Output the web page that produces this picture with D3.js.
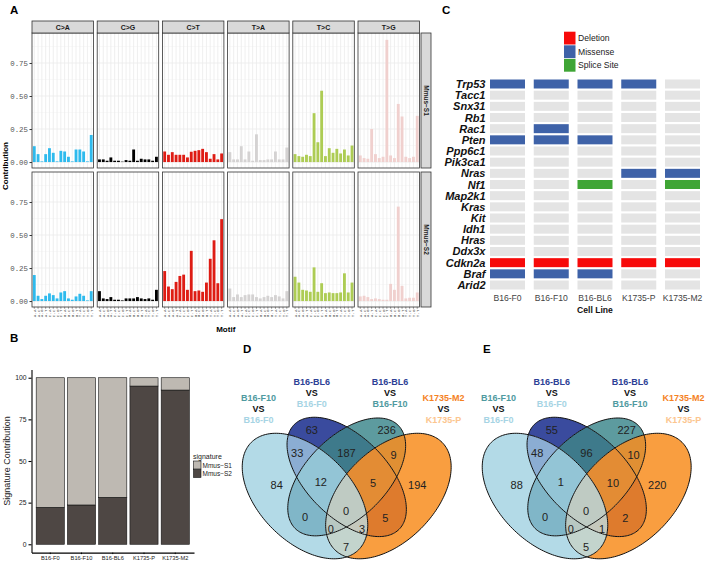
<!DOCTYPE html>
<html><head><meta charset="utf-8">
<script src="https://cdn.jsdelivr.net/npm/d3@7"></script>
<style>body{margin:0;background:#fff}svg{display:block}</style>
</head><body>
<svg id="fig" width="709" height="562"></svg>
<script>
// ---------------- DATA ----------------
// Panel A: mutational signature profiles
const mutationTypes = ["C>A","C>G","C>T","T>A","T>C","T>G"];
const motifLabels = ["A.A","A.C","A.G","A.T","C.A","C.C","C.G","C.T","G.A","G.C","G.G","G.T","T.A","T.C","T.G","T.T"];
const signatureNames = ["Mmus\u2212S1","Mmus\u2212S2"];
const s1CA = [0.12,0.06,0.005,0.06,0.105,0.07,0.005,0.085,0.08,0.04,0.005,0.095,0.095,0.08,0.005,0.205];
const s1CG = [0.02,0.02,0.01,0.035,0.01,0.01,0.003,0.015,0.01,0.095,0.01,0.025,0.02,0.02,0.01,0.04];
const s1CT = [0.08,0.055,0.075,0.055,0.055,0.055,0.035,0.078,0.085,0.09,0.1,0.075,0.025,0.06,0.02,0.065];
const s1TA = [0.075,0.02,0.02,0.12,0.02,0.08,0.01,0.21,0.015,0.015,0.02,0.02,0.08,0.02,0.02,0.11];
const s1TC = [0.06,0.045,0.04,0.055,0.045,0.37,0.15,0.54,0.045,0.105,0.07,0.1,0.065,0.095,0.05,0.125];
const s1TG = [0.05,0.03,0.025,0.25,0.06,0.03,0.04,0.925,0.05,0.03,0.44,0.345,0.04,0.03,0.04,0.35];
const s2CA = [0.197,0.04,0.015,0.04,0.058,0.045,0.02,0.065,0.075,0.02,0.01,0.035,0.055,0.04,0.005,0.075];
const s2CG = [0.075,0.02,0.015,0.03,0.01,0.01,0.005,0.02,0.02,0.02,0.03,0.02,0.015,0.02,0.01,0.085];
const s2CT = [0.227,0.11,0.09,0.145,0.19,0.2,0.085,0.38,0.075,0.08,0.07,0.14,0.32,0.46,0.135,0.62];
const s2TA = [0.095,0.03,0.05,0.03,0.045,0.05,0.05,0.03,0.02,0.03,0.04,0.03,0.045,0.035,0.02,0.075];
const s2TC = [0.184,0.14,0.085,0.08,0.07,0.255,0.07,0.135,0.06,0.065,0.06,0.06,0.065,0.21,0.065,0.14];
const s2TG = [0.035,0.04,0.03,0.015,0.02,0.015,0.01,0.01,0.13,0.085,0.715,0.115,0.02,0.025,0.025,0.065];
const contribTicks = [0, 0.25, 0.5, 0.75];

// Panel B: signature contribution per cell line
const sampleNames = ["B16-F0","B16-F10","B16-BL6","K1735-P","K1735-M2"];
const contribS1 = [77.8, 76.4, 71.8, 5.0, 7.4];
const contribS2 = [22.2, 23.6, 28.2, 95.0, 92.6];
const contribAxisTicks = [0, 25, 50, 75, 100];

// Panel C: oncoprint
const genes = ["Trp53","Tacc1","Snx31","Rb1","Rac1","Pten","Ppp6c1","Pik3ca1","Nras","Nf1","Map2k1","Kras","Kit","Idh1","Hras","Ddx3x","Cdkn2a","Braf","Arid2"];
const cellLines = ["B16-F0","B16-F10","B16-BL6","K1735-P","K1735-M2"];
const mutationClasses = ["Deletion","Missense","Splice Site"];
const mutations = [
  ["Trp53","B16-F0","Missense"],["Trp53","B16-F10","Missense"],["Trp53","B16-BL6","Missense"],["Trp53","K1735-P","Missense"],
  ["Rac1","B16-F10","Missense"],
  ["Pten","B16-F0","Missense"],["Pten","B16-F10","Missense"],["Pten","B16-BL6","Missense"],
  ["Nras","K1735-P","Missense"],["Nras","K1735-M2","Missense"],
  ["Nf1","B16-BL6","Splice Site"],["Nf1","K1735-M2","Splice Site"],
  ["Cdkn2a","B16-F0","Deletion"],["Cdkn2a","B16-F10","Deletion"],["Cdkn2a","B16-BL6","Deletion"],["Cdkn2a","K1735-P","Deletion"],["Cdkn2a","K1735-M2","Deletion"],
  ["Braf","B16-F0","Missense"],["Braf","B16-F10","Missense"],["Braf","B16-BL6","Missense"]
];

// Panels D/E: 4-set Venn diagrams
const vennSetTitles = [["B16-F10","VS","B16-F0"],["B16-BL6","VS","B16-F0"],["B16-BL6","VS","B16-F10"],["K1735-M2","VS","K1735-P"]];
const vennRegions = ["1","2","3","4","12","13","14","23","24","34","123","124","134","234","1234"];
const vennD = [84,63,236,194,33,0,7,187,5,9,12,3,0,5,0];
const vennE = [88,55,227,220,48,0,5,96,2,10,1,1,0,10,0];

// ---------------- LAYOUT / STYLE ----------------
const W = 709, H = 562;
const SANS = '"Liberation Sans", Arial, Helvetica, sans-serif';
const MONO = '"Liberation Mono", "DejaVu Sans Mono", monospace';
const svg = d3.select("#fig");
svg.append("rect").attr("width", W).attr("height", H).attr("fill", "#fff");
const defs = svg.append("defs");

function txt(g, s, x, y, o) {
  o = o || {};
  const t = g.append("text").attr("x", x).attr("y", y).text(s)
    .attr("font-family", o.family || SANS).attr("font-size", o.size || 8)
    .attr("font-weight", o.weight || "normal").attr("fill", o.fill || "#000")
    .attr("text-anchor", o.anchor || "start");
  if (o.style) t.attr("font-style", o.style);
  if (o.baseline) t.attr("dominant-baseline", o.baseline);
  if (o.transform) t.attr("transform", o.transform);
  return t;
}

// Panel letters
[["A",10,13.5],["B",10,342],["C",442,13.5],["D",243,353],["E",483,353]].forEach(l =>
  txt(svg, l[0], l[1], l[2], {size: 11.5, weight: "bold"}));

// ---------------- PANEL A ----------------
(function () {
  const typeColors = ["#2EBAED","#000000","#DE1C14","#D4D2D2","#ADCC54","#F0D0CE"];
  const sigVals = [[s1CA,s1CG,s1CT,s1TA,s1TC,s1TG],[s2CA,s2CG,s2CT,s2TA,s2TC,s2TG]];
  const x0 = 32, step = 65.2, pw = 61.5;
  const rows = [{top: 33, bottom: 168}, {top: 172, bottom: 307}];
  const xb = d3.scaleBand().domain(motifLabels).range([0, pw]).paddingInner(0.25).paddingOuter(0.225);
  rows.forEach((row, r) => {
    const y = d3.scaleLinear().domain([-0.045, 0.977]).range([row.bottom, row.top]);
    mutationTypes.forEach((mt, t) => {
      const g = svg.append("g").attr("transform", `translate(${x0 + t * step},0)`);
      g.append("rect").attr("x", 0).attr("y", row.top).attr("width", pw).attr("height", row.bottom - row.top).attr("fill", "#fff");
      g.selectAll(null).data([0.125, 0.375, 0.625, 0.875]).enter().append("line")
        .attr("x1", 0).attr("x2", pw).attr("y1", d => y(d)).attr("y2", d => y(d))
        .attr("stroke", "#F3F3F3").attr("stroke-width", 0.5);
      g.selectAll(null).data(contribTicks).enter().append("line")
        .attr("x1", 0).attr("x2", pw).attr("y1", d => y(d)).attr("y2", d => y(d))
        .attr("stroke", "#EBEBEB").attr("stroke-width", 0.8);
      g.selectAll(null).data(motifLabels).enter().append("line")
        .attr("x1", d => xb(d) + xb.bandwidth() / 2).attr("x2", d => xb(d) + xb.bandwidth() / 2)
        .attr("y1", row.top).attr("y2", row.bottom).attr("stroke", "#EBEBEB").attr("stroke-width", 0.8);
      const vals = sigVals[r][t];
      g.selectAll(null).data(motifLabels).enter().append("rect")
        .attr("x", d => xb(d)).attr("width", xb.bandwidth())
        .attr("y", (d, i) => y(vals[i])).attr("height", (d, i) => y(0) - y(vals[i]))
        .attr("fill", typeColors[t]);
      g.append("rect").attr("x", 0).attr("y", row.top).attr("width", pw).attr("height", row.bottom - row.top)
        .attr("fill", "none").attr("stroke", "#333").attr("stroke-width", 0.8);
      if (r === 0) {
        g.append("rect").attr("x", 0).attr("y", 21).attr("width", pw).attr("height", 12)
          .attr("fill", "#D9D9D9").attr("stroke", "#333").attr("stroke-width", 0.8);
        txt(g, mt, pw / 2, 27.3, {size: 7, weight: "bold", anchor: "middle", baseline: "central", fill: "#1a1a1a"});
      }
      if (t === 0) {
        const ax = g.append("g").call(d3.axisLeft(y).tickValues(contribTicks).tickFormat(d3.format(".2f")).tickSize(2.5).tickPadding(1.5));
        ax.select(".domain").remove();
        ax.selectAll("line").attr("stroke", "#333");
        ax.selectAll("text").attr("font-family", MONO).attr("font-size", 7.4).attr("fill", "#555");
      }
      if (r === 1) {
        const ax = g.append("g").attr("transform", `translate(0,${row.bottom})`).call(d3.axisBottom(xb).tickSize(1.8));
        ax.select(".domain").remove();
        ax.selectAll("line").attr("stroke", "#333").attr("stroke-width", 0.5);
        ax.selectAll("text").attr("font-family", MONO).attr("font-size", 4.2).attr("fill", "#555")
          .attr("transform", "rotate(-90)").attr("text-anchor", "end").attr("x", -2.6).attr("y", 0).attr("dy", "0.35em");
      }
    });
    const sx = x0 + 5 * step + pw + 1.5;
    svg.append("rect").attr("x", sx).attr("y", row.top).attr("width", 10).attr("height", row.bottom - row.top)
      .attr("fill", "#D9D9D9").attr("stroke", "#333").attr("stroke-width", 0.8);
    txt(svg, signatureNames[r], 0, 0, {size: 6.5, weight: "bold", anchor: "middle", baseline: "central", fill: "#1a1a1a",
      transform: `translate(${sx + 5},${(row.top + row.bottom) / 2}) rotate(90)`});
  });
  txt(svg, "Contribution", 0, 0, {size: 8, weight: "bold", anchor: "middle", baseline: "central",
    transform: "translate(5,166) rotate(-90)"});
  txt(svg, "Motif", x0 + (5 * step + pw) / 2, 329, {size: 8, weight: "bold", anchor: "middle", baseline: "central"});
})();

// ---------------- PANEL B ----------------
(function () {
  const bx = d3.scaleBand().domain(sampleNames).range([31.5, 194]).paddingInner(0.1).paddingOuter(0.15);
  const by = d3.scaleLinear().domain([-5, 105]).range([552.6, 369.4]);
  const rowsB = sampleNames.map((s, i) => ({sample: s, S2: contribS2[i], S1: contribS1[i]}));
  const stack = d3.stack().keys(["S2", "S1"])(rowsB);
  const fills = {S2: "#4E4744", S1: "#BEB9B2"};
  const g = svg.append("g");
  stack.forEach(layer => {
    g.selectAll(null).data(layer).enter().append("rect")
      .attr("x", d => bx(d.data.sample)).attr("width", bx.bandwidth())
      .attr("y", d => by(d[1])).attr("height", d => by(d[0]) - by(d[1]))
      .attr("fill", fills[layer.key]).attr("stroke", "#111").attr("stroke-width", 0.6);
  });
  const ay = g.append("g").attr("transform", "translate(31.5,0)")
    .call(d3.axisLeft(by).tickValues(contribAxisTicks).tickSize(3).tickPadding(2).tickSizeOuter(0));
  ay.select(".domain").attr("stroke", "#000").attr("stroke-width", 1.1);
  ay.selectAll("line").attr("stroke", "#000").attr("stroke-width", 1.1);
  ay.selectAll("text").attr("font-family", SANS).attr("font-size", 6.8).attr("fill", "#222");
  const axb = g.append("g").attr("transform", "translate(0,552.6)")
    .call(d3.axisBottom(bx).tickSize(1.5).tickPadding(2).tickSizeOuter(0));
  axb.select(".domain").attr("stroke", "#000").attr("stroke-width", 1.1);
  axb.selectAll("line").attr("stroke", "#000");
  axb.selectAll("text").attr("font-family", SANS).attr("font-size", 5.7).attr("fill", "#222");
  txt(svg, "Signature Contribution", 0, 0, {size: 9, anchor: "middle", baseline: "central", fill: "#222",
    transform: "translate(7,461) rotate(-90)"});
  // legend
  txt(svg, "signature", 193, 459, {size: 7, fill: "#222"});
  const keys = [["S1", signatureNames[0]], ["S2", signatureNames[1]]];
  keys.forEach((k, i) => {
    svg.append("rect").attr("x", 193.5).attr("y", 461 + i * 8.5).attr("width", 7.5).attr("height", 8)
      .attr("fill", fills[k[0]]).attr("stroke", "#111").attr("stroke-width", 0.6);
    txt(svg, k[1], 202.5, 465 + i * 8.5, {size: 6.5, baseline: "central", fill: "#222"});
  });
})();

// ---------------- PANEL C ----------------
(function () {
  const classColors = {"Deletion": "#F70A0A", "Missense": "#3E62A8", "Splice Site": "#3FA535"};
  const cx = d3.scaleBand().domain(cellLines).range([490, 700]).paddingInner(0.2).paddingOuter(0);
  const cy = d3.scaleBand().domain(genes).range([79.5, 289.5]).paddingInner(0.194).paddingOuter(0);
  const lookup = new Map(mutations.map(m => [m[0] + "|" + m[1], m[2]]));
  const cells = [];
  genes.forEach(gn => cellLines.forEach(cl => cells.push({gene: gn, line: cl, cls: lookup.get(gn + "|" + cl)})));
  svg.append("g").selectAll("rect").data(cells).enter().append("rect")
    .attr("x", d => cx(d.line)).attr("y", d => cy(d.gene))
    .attr("width", cx.bandwidth()).attr("height", cy.bandwidth())
    .attr("fill", d => d.cls ? classColors[d.cls] : "#E4E4E4");
  genes.forEach(gn => txt(svg, gn, 485.5, cy(gn) + cy.bandwidth() / 2, {size: 11, weight: "bold", style: "italic",
    anchor: "end", baseline: "central", fill: "#111"}));
  cellLines.forEach(cl => txt(svg, cl, cx(cl) + cx.bandwidth() / 2, 298.3, {size: 8.6, anchor: "middle", baseline: "central", fill: "#444"}));
  txt(svg, "Cell Line", 595, 310, {size: 8.6, weight: "bold", anchor: "middle", baseline: "central", fill: "#111"});
  mutationClasses.forEach((mc, i) => {
    svg.append("rect").attr("x", 564).attr("y", 31.7 + i * 13.6).attr("width", 11.5).attr("height", 12.8).attr("fill", classColors[mc]);
    txt(svg, mc, 578, 38.1 + i * 13.6, {size: 8.6, baseline: "central", fill: "#222"});
  });
})();

// ---------------- PANELS D / E ----------------
(function () {
  // ellipse geometry in venn units: [cx, cy, semi-major, semi-minor, rotation(deg)]
  const ellipses = [[0.3255,0.435,0.3176,0.1925,135],[0.5,0.515,0.310,0.169,135],[0.5,0.515,0.305,0.169,45],[0.6745,0.435,0.3176,0.1925,45]];
  const regionColors = ["#B3DAE7","#3A4B9E","#5D9B9F","#F99E40","#8BADD3","#80B6C8","#C3D4CD","#3E7A8B","#DE7B2D","#E08F33","#93C5D6","#C6C9BD","#B8C8C2","#E38C34","#BFCBC3"];
  const titleColors = [["#4F9AA0","#111","#A6D4E4"],["#2D3F96","#111","#A6D4E4"],["#2D3F96","#111","#4F9AA0"],["#F5821F","#111","#FCC58E"]];
  const titlePos = [[258.5,397.7],[311.7,381.7],[390,381.7],[443.5,397.7]];
  const labelPos = [[0.207,0.481],[0.354,0.711],[0.667,0.711],[0.795,0.481],[0.293,0.614],[0.326,0.349],[0.497,0.223],
                    [0.499,0.614],[0.662,0.342],[0.696,0.607],[0.392,0.494],[0.564,0.298],[0.434,0.298],[0.610,0.491],[0.497,0.374]];
  const vx = d3.scaleLinear().domain([0, 1]).range([346.7 - 119.5, 346.7 + 119.5]);
  const vy = d3.scaleLinear().domain([0, 1]).range([600, 361]);
  const ellPts = e => {
    const th = e[4] * Math.PI / 180;
    return d3.range(0, 360, 2).map(k => {
      const t = k * Math.PI / 180;
      return [e[0] + e[2] * Math.cos(th) * Math.cos(t) - e[3] * Math.sin(th) * Math.sin(t),
              e[1] + e[2] * Math.sin(th) * Math.cos(t) + e[3] * Math.cos(th) * Math.sin(t)];
    });
  };
  const line = d3.line().x(p => vx(p[0])).y(p => vy(p[1])).curve(d3.curveLinearClosed);
  const paths = ellipses.map(e => line(ellPts(e)));
  paths.forEach((p, i) => defs.append("clipPath").attr("id", "vc" + i).append("path").attr("d", p));
  vennRegions.forEach((reg, k) => {
    const m = defs.append("mask").attr("id", "vm" + k).attr("maskUnits", "userSpaceOnUse")
      .attr("x", 0).attr("y", 0).attr("width", W).attr("height", H);
    m.append("rect").attr("width", W).attr("height", H).attr("fill", "#fff");
    [0, 1, 2, 3].filter(i => !reg.includes(String(i + 1))).forEach(i => m.append("path").attr("d", paths[i]).attr("fill", "#000"));
  });
  function drawVenn(dx, values) {
    const g = svg.append("g").attr("transform", `translate(${dx},0)`);
    vennRegions.forEach((reg, k) => {
      let h = g;
      reg.split("").forEach(c => { h = h.append("g").attr("clip-path", `url(#vc${+c - 1})`); });
      h.append("rect").attr("x", 200).attr("y", 360).attr("width", 290).attr("height", 210)
        .attr("fill", regionColors[k]).attr("mask", `url(#vm${k})`);
    });
    paths.forEach(p => g.append("path").attr("d", p).attr("fill", "none").attr("stroke", "#111").attr("stroke-width", 1));
    values.forEach((v, k) => txt(g, v, vx(labelPos[k][0]), vy(labelPos[k][1]), {size: 11, anchor: "middle", baseline: "central", fill: "#222"}));
    vennSetTitles.forEach((lines, i) => lines.forEach((s, j) =>
      txt(g, s, titlePos[i][0], titlePos[i][1] + j * 11.3, {size: 9, weight: "bold", anchor: "middle", baseline: "central", fill: titleColors[i][j]})));
  }
  drawVenn(0, vennD);
  drawVenn(240, vennE);
})();
</script>
</body></html>
